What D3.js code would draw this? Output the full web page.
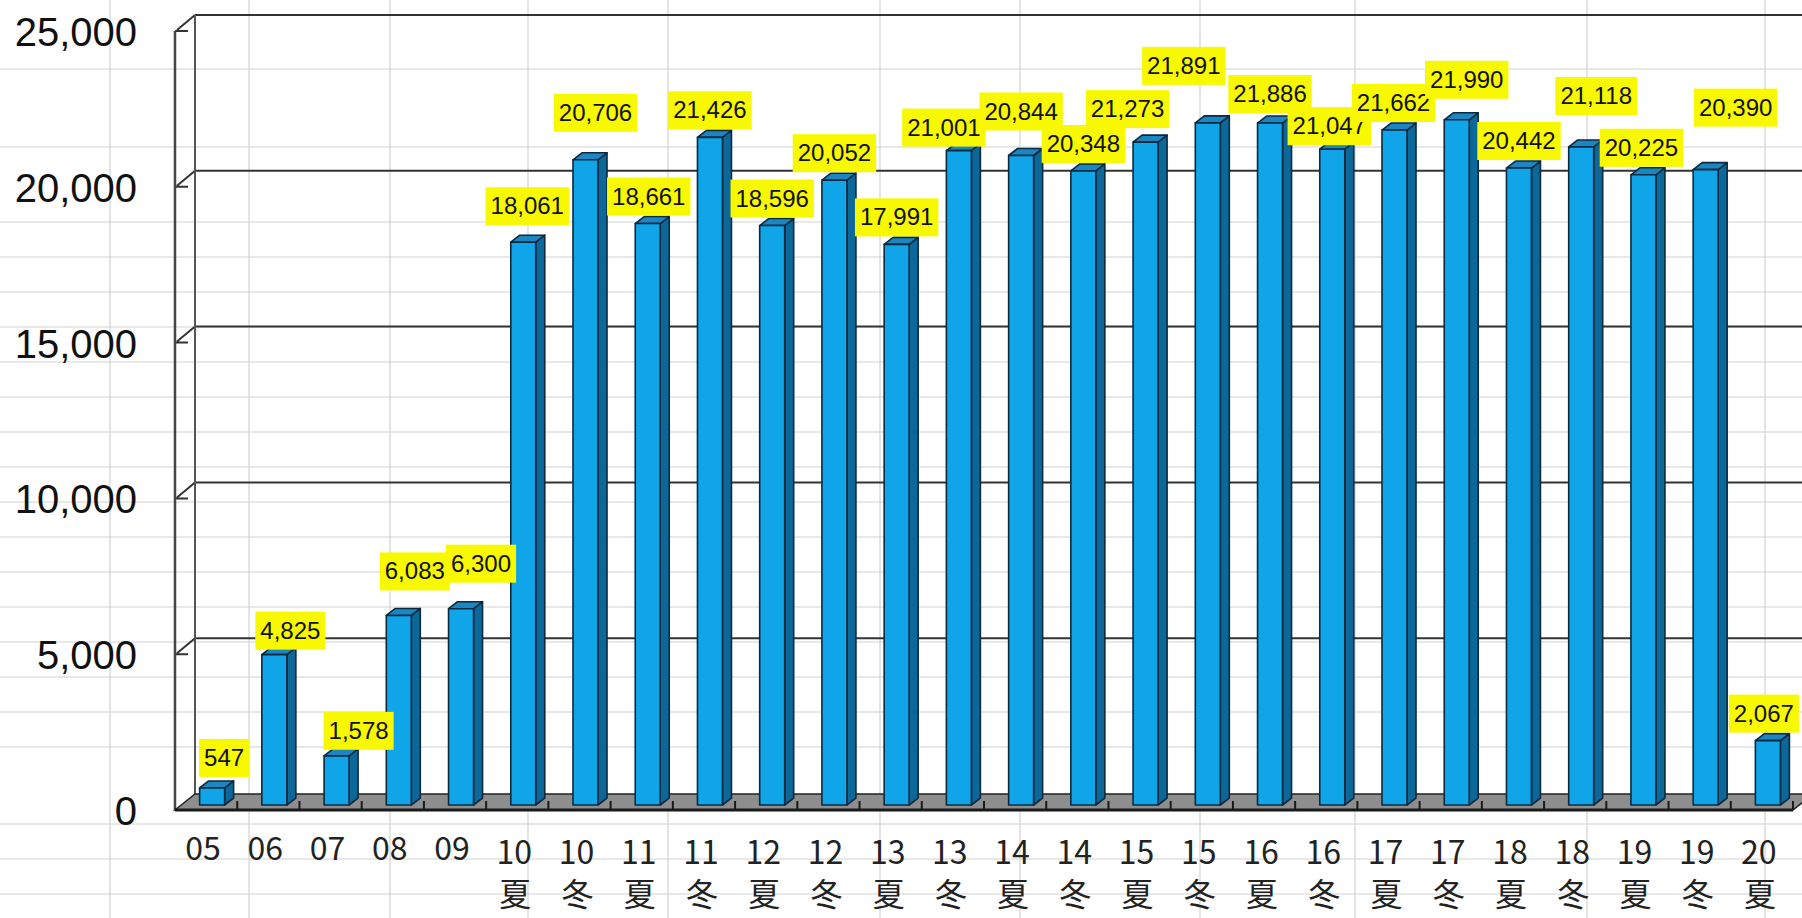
<!DOCTYPE html>
<html>
<head>
<meta charset="utf-8">
<script src="https://cdn.jsdelivr.net/npm/d3@7"></script>
<style>
  body { margin: 0; background: #fff; }
  svg { display: block; }
</style>
</head>
<body>
<svg width="1802" height="918"></svg>
<script>
// data
var years   = ["05","06","07","08","09","10","10","11","11","12","12","13","13","14","14","15","15","16","16","17","17","18","18","19","19","20"];
var seasons = ["","","","","","夏","冬","夏","冬","夏","冬","夏","冬","夏","冬","夏","冬","夏","冬","夏","冬","夏","冬","夏","冬","夏"];
var values  = [547,4825,1578,6083,6300,18061,20706,18661,21426,18596,20052,17991,21001,20844,20348,21273,21891,21886,21047,21662,21990,20442,21118,20225,20390,2067];
var yTicks  = [0,5000,10000,15000,20000,25000];

// hand placed label nudges in the original chart (px)
var labelNudgeX = [12,16,22,16,20,4,10,1,0,0,0,0,-15,0,0,-18,-24,0,-3,-1,10,0,15,-2,30,-4];
var labelNudgeY = [-3,3,2,-17,-18,-9,-20,0,0,0,0,0,4,-17,0,-6,-30,-2,4,0,-13,0,-24,0,-35,0];

// spreadsheet cell grid behind the chart
var sheetCols = [110,249,390,528,668,880,1020,1200,1355,1587,1765];
var sheetRows = [69,147,222,257,292,327,362,397,432,467,502,537,572,607,642,677,712,747,824,859,894];

var svg = d3.select("svg"),
    W = +svg.attr("width"), H = +svg.attr("height"),
    left = 175, right = 1793,
    wall = {dx: 20, dy: -16},     // back wall offset
    plane = {dx: 6, dy: -5},      // where the bars stand
    depth = {dx: 9, dy: -7},      // bar thickness
    barW = 25;

var keys = years.map(function(d, i) { return i + ":" + d + seasons[i]; });

var x = d3.scaleBand().domain(keys).range([left, right]);
var y = d3.scaleLinear().domain([0, 25000]).range([810, 31]);

// sheet grid
svg.append("g").selectAll("line").data(sheetCols).enter().append("line")
    .attr("x1", function(d) { return d; }).attr("x2", function(d) { return d; })
    .attr("y1", 0).attr("y2", H)
    .attr("stroke", "#d2d2d2").attr("stroke-width", 1.2);
svg.append("g").selectAll("line").data(sheetRows).enter().append("line")
    .attr("y1", function(d) { return d; }).attr("y2", function(d) { return d; })
    .attr("x1", 0).attr("x2", W)
    .attr("stroke", "#d2d2d2").attr("stroke-width", 1.2);

// back wall gridlines and left wall
var g = svg.append("g");
g.selectAll(".grid").data(yTicks.filter(function(d) { return d > 0; })).enter().append("line")
    .attr("x1", left + wall.dx).attr("x2", W)
    .attr("y1", function(d) { return y(d) + wall.dy; })
    .attr("y2", function(d) { return y(d) + wall.dy; })
    .attr("stroke", "#333").attr("stroke-width", 2);
g.selectAll(".diag").data(yTicks.filter(function(d) { return d > 0; })).enter().append("path")
    .attr("d", function(d) {
      return "M" + (left + 13) + "," + y(d) + "H" + left + "M" + (left + 2) + "," + (y(d) - 1) +
             "L" + (left + wall.dx) + "," + (y(d) + wall.dy);
    })
    .attr("fill", "none").attr("stroke", "#333").attr("stroke-width", 2);
g.append("line")
    .attr("x1", left + wall.dx).attr("x2", left + wall.dx)
    .attr("y1", y(25000) + wall.dy).attr("y2", y(0) + wall.dy)
    .attr("stroke", "#555").attr("stroke-width", 2);
g.append("line")
    .attr("x1", left).attr("x2", left)
    .attr("y1", y(25000)).attr("y2", y(0))
    .attr("stroke", "#444").attr("stroke-width", 2.5);

// floor
g.append("path")
    .attr("d", "M" + left + "," + y(0) + "H" + right +
               "L" + (right + wall.dx) + "," + (y(0) + wall.dy) +
               "H" + (left + wall.dx) + "Z")
    .attr("fill", "#8e8e8e").attr("stroke", "#222").attr("stroke-width", 1.5);
g.append("line")
    .attr("x1", left).attr("x2", right)
    .attr("y1", y(0)).attr("y2", y(0))
    .attr("stroke", "#1a1a1a").attr("stroke-width", 3);
g.selectAll(".xtick").data(keys.slice(1).concat(["end"])).enter().append("line")
    .attr("x1", function(d) { return d === "end" ? right : x(d); })
    .attr("x2", function(d) { return d === "end" ? right : x(d); })
    .attr("y1", y(0)).attr("y2", y(0) - 9)
    .attr("stroke", "#1a1a1a").attr("stroke-width", 2);

// bars
function bx(k) { return x(k) + (x.bandwidth() - barW) / 2 + plane.dx; }
var bars = svg.append("g").selectAll("g").data(values).enter().append("g")
    .attr("stroke", "#0b2a40").attr("stroke-width", 1.6).attr("stroke-linejoin", "round");

bars.append("path")
    .attr("fill", "#0c6898")
    .attr("d", function(d, i) {
      var x0 = bx(keys[i]) + barW, t = y(d) + plane.dy, b = y(0) + plane.dy;
      return "M" + x0 + "," + t + "l" + depth.dx + "," + depth.dy + "V" + (b + depth.dy) +
             "L" + x0 + "," + b + "Z";
    });
bars.append("path")
    .attr("fill", "#1b86bf")
    .attr("d", function(d, i) {
      var x0 = bx(keys[i]), t = y(d) + plane.dy;
      return "M" + x0 + "," + t + "l" + depth.dx + "," + depth.dy + "h" + barW +
             "l" + (-depth.dx) + "," + (-depth.dy) + "Z";
    });
bars.append("rect")
    .attr("fill", "#10a4e8")
    .attr("x", function(d, i) { return bx(keys[i]); })
    .attr("y", function(d) { return y(d) + plane.dy; })
    .attr("width", barW)
    .attr("height", function(d) { return y(0) - y(d); });

// value labels
var fmt = d3.format(",");
var labels = svg.append("g").selectAll("g").data(values).enter().append("g")
    .attr("transform", function(d, i) {
      var cx = bx(keys[i]) + barW / 2 + labelNudgeX[i],
          bottom = y(d) + plane.dy - 8 + labelNudgeY[i];
      return "translate(" + cx + "," + bottom + ")";
    });
labels.append("text")
    .attr("text-anchor", "middle")
    .attr("y", -11)
    .style("font", "24px 'Liberation Sans', Arial, sans-serif")
    .attr("fill", "#111")
    .text(function(d) { return fmt(d); })
    .each(function() {
      var bb = this.getBBox();
      d3.select(this.parentNode).insert("rect", "text")
          .attr("x", bb.x - 5).attr("width", bb.width + 10)
          .attr("y", -38).attr("height", 38)
          .attr("fill", "#f8f800");
    });

// y axis labels
var yAxis = svg.append("g")
    .attr("transform", "translate(137,0)")
    .call(d3.axisLeft(y).tickValues(yTicks).tickFormat(fmt).tickSize(0).tickPadding(0));
yAxis.select(".domain").remove();
yAxis.selectAll("text")
    .attr("dy", "0.36em")
    .style("font", "40px 'Liberation Sans', Arial, sans-serif")
    .attr("fill", "#111");

// x axis labels
var xl = svg.append("g").selectAll("text").data(keys).enter().append("text")
    .attr("text-anchor", "middle")
    .style("font", "32px 'Noto Sans CJK JP', sans-serif")
    .attr("fill", "#222");
xl.append("tspan")
    .attr("x", function(d) { return x(d) + x.bandwidth() / 2 - 3; })
    .attr("y", function(d, i) { return seasons[i] ? 864 : 860; })
    .text(function(d, i) { return years[i]; });
xl.append("tspan")
    .attr("x", function(d) { return x(d) + x.bandwidth() / 2 - 2; })
    .attr("y", 906)
    .text(function(d, i) { return seasons[i]; });
</script>
</body>
</html>
